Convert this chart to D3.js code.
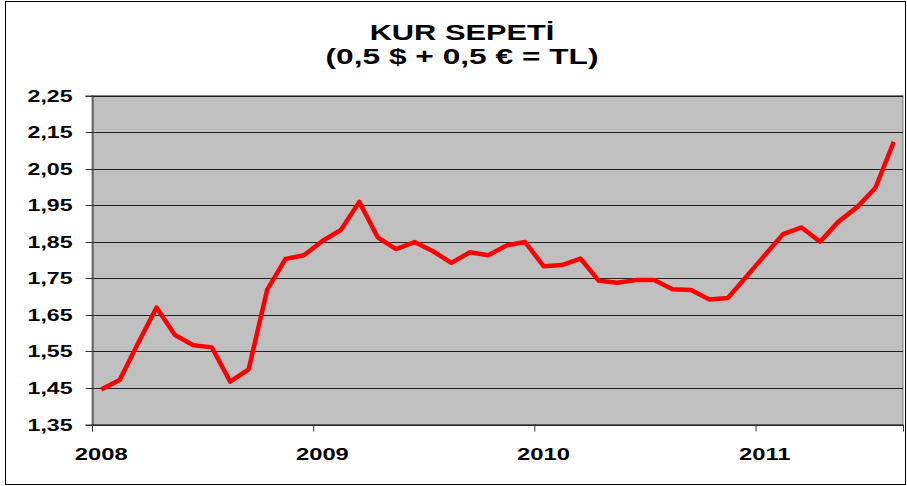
<!DOCTYPE html>
<html>
<head>
<meta charset="utf-8">
<script src="https://cdn.jsdelivr.net/npm/d3@7"></script>
<style>
  body { margin: 0; background: #fff; }
  svg text { font-family: "Liberation Sans", Arial, sans-serif; font-weight: bold; fill: #000; }
</style>
</head>
<body>
<div id="chart"></div>
<script>
var W = 907,
	H = 486;

// months on the category axis
var months = [
	"2008-01","2008-02","2008-03","2008-04","2008-05","2008-06","2008-07","2008-08","2008-09","2008-10","2008-11","2008-12",
	"2009-01","2009-02","2009-03","2009-04","2009-05","2009-06","2009-07","2009-08","2009-09","2009-10","2009-11","2009-12",
	"2010-01","2010-02","2010-03","2010-04","2010-05","2010-06","2010-07","2010-08","2010-09","2010-10","2010-11","2010-12",
	"2011-01","2011-02","2011-03","2011-04","2011-05","2011-06","2011-07","2011-08"
];

// basket value (0,5 USD + 0,5 EUR in TL)
var values = [
	1.446, 1.472, 1.572, 1.670, 1.595, 1.567, 1.561, 1.467, 1.501, 1.718, 1.803, 1.813,
	1.852, 1.882, 1.959, 1.862, 1.830, 1.849, 1.824, 1.792, 1.821, 1.813, 1.840, 1.849,
	1.783, 1.786, 1.804, 1.743, 1.738, 1.745, 1.745, 1.720, 1.718, 1.692, 1.696, 1.754,
	1.813, 1.871, 1.889, 1.850, 1.905, 1.944, 1.997, 2.123
];

var xTickMonths = ["2008-01","2009-01","2010-01","2011-01"];
var xTickLabels = ["2008","2009","2010","2011"];
var yTicks = [1.35, 1.45, 1.55, 1.65, 1.75, 1.85, 1.95, 2.05, 2.15, 2.25];

var titleLines = ["KUR SEPET\u0130", "(0,5 $ + 0,5 \u20AC = TL)"];

var stretch = 1.4; // the original text is drawn horizontally widened

var plotLeft = 92, plotRight = 903, plotTop = 95.5, plotBottom = 424.5;

var svg = d3.select("#chart").append("svg")
	.attr("width", W)
	.attr("height", H);

// outer frame
svg.append("rect")
	.attr("x", 5.5).attr("y", 1.5)
	.attr("width", 900).attr("height", 483)
	.attr("fill", "#fff")
	.attr("stroke", "#000")
	.attr("stroke-width", 1);

var x = d3.scaleBand().domain(months).range([plotLeft, plotRight]);
var y = d3.scaleLinear().domain([1.35, 2.25]).range([plotBottom, plotTop]);

var fmt = d3.formatLocale({decimal: ",", thousands: ".", grouping: [3], currency: ["", ""]}).format(".2f");

// plot background
svg.append("rect")
	.attr("x", plotLeft).attr("y", plotTop)
	.attr("width", plotRight - plotLeft).attr("height", plotBottom - plotTop)
	.attr("fill", "#c0c0c0")
	.attr("stroke", "#808080")
	.attr("stroke-width", 1);

// gridlines
svg.append("g")
	.selectAll("line")
	.data(yTicks)
	.enter()
	.append("line")
	.attr("x1", plotLeft).attr("x2", plotRight)
	.attr("y1", function(d){ return Math.round(y(d)) + 0.5; })
	.attr("y2", function(d){ return Math.round(y(d)) + 0.5; })
	.attr("stroke", "#222")
	.attr("stroke-width", 1);

// y axis
var yAxis = svg.append("g")
	.attr("transform", "translate(" + (plotLeft + 0.5) + ",0)")
	.call(d3.axisLeft(y).tickValues(yTicks).tickFormat(fmt).tickSize(7).tickPadding(13));
yAxis.select(".domain").attr("stroke", "#333");
yAxis.selectAll(".tick").attr("transform", function(d){ return "translate(0," + (Math.round(y(d)) + 0.5) + ")"; });
yAxis.selectAll(".tick line").attr("stroke", "#333");
yAxis.selectAll(".tick text")
	.attr("font-size", "16.5px")
	.attr("x", -20 / stretch)
	.attr("dy", "0.36em")
	.attr("transform", "scale(" + stretch + ",1)");

// x axis: ticks on category boundaries, labels on category centres
var xAxis = svg.append("g")
	.attr("transform", "translate(0," + plotBottom + ")")
	.call(d3.axisBottom(x).tickValues(xTickMonths)
		.tickFormat(function(d){ return xTickLabels[xTickMonths.indexOf(d)]; })
		.tickSize(7).tickPadding(0));
xAxis.select(".domain").attr("stroke", "#333");
xAxis.selectAll(".tick line")
	.attr("x1", -x.bandwidth() / 2 + 0.5)
	.attr("x2", -x.bandwidth() / 2 + 0.5)
	.attr("stroke", "#333");
xAxis.selectAll(".tick text")
	.attr("font-size", "17px")
	.attr("x", 0)
	.attr("y", 36)
	.attr("dy", 0)
	.attr("transform", "scale(" + stretch + ",1)");

// series line
var line = d3.line()
	.x(function(d, i){ return x(months[i]) + x.bandwidth() / 2; })
	.y(function(d){ return y(d); });

svg.append("path")
	.datum(values)
	.attr("d", line)
	.attr("fill", "none")
	.attr("stroke", "#ff0000")
	.attr("stroke-width", 4.5)
	.attr("stroke-linejoin", "round");

// title
svg.selectAll(".title")
	.data(titleLines)
	.enter()
	.append("text")
	.attr("class", "title")
	.attr("text-anchor", "middle")
	.attr("font-size", "22px")
	.attr("transform", function(d, i){ return "translate(462," + (40 + i * 24) + ") scale(" + (i ? 1.44 : stretch) + ",1)"; })
	.text(function(d){ return d; });
</script>
</body>
</html>
